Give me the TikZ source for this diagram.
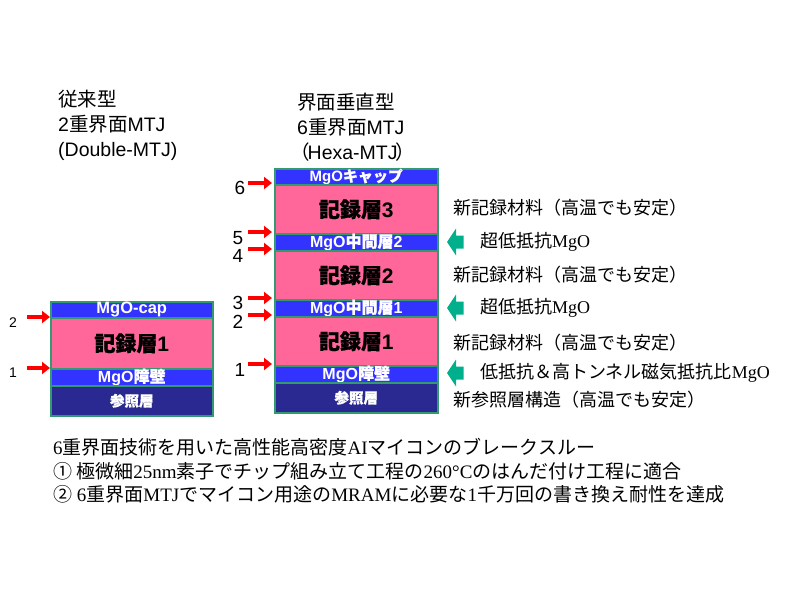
\documentclass[tikz,border=0pt]{standalone}
\usepackage{fontspec}
\setmainfont{Liberation Serif}
\setsansfont{Liberation Sans}
\newfontfamily\jpfont{Noto Sans CJK JP}
\newfontfamily\jpbfont{Noto Sans CJK JP}[FakeBold=0.7]
\newcommand{\jp}[1]{{\jpfont #1}}
\newcommand{\jpb}[1]{{\jpbfont #1}}
\usetikzlibrary{arrows.meta}
\definecolor{mgoblue}{RGB}{51,51,255}
\definecolor{recpink}{RGB}{255,102,153}
\definecolor{refnavy}{RGB}{41,41,145}
\definecolor{edgegreen}{RGB}{51,153,110}
\definecolor{arrgreen}{RGB}{0,176,140}

\begin{document}
\begin{tikzpicture}[x=1pt, y=-1pt,
		layer/.style={draw=edgegreen, line width=1.5pt, anchor=north west, inner sep=0pt},
		redarr/.style={draw=red, line width=4.5pt, -{Triangle[length=8pt, width=12pt]}},
		title/.style={font=\sffamily\fontsize{19.5}{25}\selectfont, align=left, inner sep=0pt, anchor=west},
		rtext/.style={font=\fontsize{18}{20}\selectfont, inner sep=0pt, anchor=west},
		num/.style={font=\sffamily\fontsize{19}{19}\selectfont, inner sep=0pt}]
		\useasboundingbox (0,0) rectangle (800,600);

		% titles
		\node[title] (tL) at (58,125) {\jp{従来型}\\2\jp{重界面}MTJ\\(Double-MTJ)};
		\node[title] (tR) at (297,127) {\jp{界面垂直型}\\6\jp{重界面}MTJ\\\hspace*{-7pt}\jp{（}\kern-2pt Hexa-MTJ\kern-2pt\jp{）}};

		% left stack (Double-MTJ)
		\foreach \nm/\top/\h/\col/\tcol/\fs/\txt in {
			capL/301/16/mgoblue/white/16.5/{MgO-cap},
			recL/317/51/recpink/black/21/{\jpb{記録層}1},
			barL/368/17/mgoblue/white/16/{MgO\jpb{障壁}},
			refL/385/30/refnavy/white/14.5/{\jpb{参照層}}} {
			\node[layer, fill=\col, minimum width=162pt, minimum height=\h pt,
				label={[text=\tcol, font=\sffamily\bfseries\fontsize{\fs}{\fs}\selectfont]center:\txt}] (\nm) at (50,\top) {};
		}

		% right stack (Hexa-MTJ)
		\foreach \nm/\top/\h/\col/\tcol/\fs/\txt in {
			capR/168/16/mgoblue/white/15/{MgO\jpb{キャップ}},
			rec3/184/49/recpink/black/21/{\jpb{記録層}3},
			mid2/233/17/mgoblue/white/16/{MgO\jpb{中間層}2},
			rec2/250/49/recpink/black/21/{\jpb{記録層}2},
			mid1/299/17/mgoblue/white/16/{MgO\jpb{中間層}1},
			rec1/316/49/recpink/black/21/{\jpb{記録層}1},
			barR/365/17/mgoblue/white/16/{MgO\jpb{障壁}},
			refR/382/30/refnavy/white/14.5/{\jpb{参照層}}} {
			\node[layer, fill=\col, minimum width=163pt, minimum height=\h pt,
				label={[text=\tcol, font=\sffamily\bfseries\fontsize{\fs}{\fs}\selectfont]center:\txt}] (\nm) at (274,\top) {};
		}

		% interface numbers and red arrows
		\node[num, font=\sffamily\fontsize{14}{14}\selectfont] (n2L) at (13,323) {2};
		\node[num, font=\sffamily\fontsize{14}{14}\selectfont] (n1L) at (13,373) {1};
		\draw[redarr] ([xshift=-23pt]recL.north west) -- (recL.north west);
		\draw[redarr] ([xshift=-23pt]barL.north west) -- (barL.north west);

		\node[num] (n6) at (240,188) {6};
		\node[num] (n5) at (238,238) {5};
		\node[num] (n4) at (238,256) {4};
		\node[num] (n3) at (238,303) {3};
		\node[num] (n2) at (238,322) {2};
		\node[num] (n1) at (240,370) {1};
		\foreach \tg in {rec3, mid2, rec2, mid1, rec1, barR} {
			\draw[redarr] ([xshift=-26pt, yshift=1pt]\tg.north west) -- ([xshift=-2pt, yshift=1pt]\tg.north west);
		}

		% notes on the right
		\node[rtext] (d3) at (453,208) {\jp{新記録材料（高温でも安定）}};
		\node[rtext] (d2) at (453,275) {\jp{新記録材料（高温でも安定）}};
		\node[rtext] (d1) at (453,343) {\jp{新記録材料（高温でも安定）}};
		\node[rtext] (d0) at (453,400) {\jp{新参照層構造（高温でも安定）}};
		\foreach \gy [count=\k] in {242, 308, 373} {
			\coordinate (gt\k) at (447,\gy);
			\fill[arrgreen] (gt\k) -- ++(9,-13.5) -- ++(0,7) -- ++(7.5,0) -- ++(0,13) -- ++(-7.5,0) -- ++(0,7) -- cycle;
		}
		\node[rtext] (m2) at (480,242) {\jp{超低抵抗}MgO};
		\node[rtext] (m1) at (480,308) {\jp{超低抵抗}MgO};
		\node[rtext] (m0) at (480,373) {\jp{低抵抗＆高トンネル磁気抵抗比}MgO};

		% summary
		\node[anchor=west, align=left, inner sep=0pt, font=\fontsize{19}{23.5}\selectfont] (sum) at (53,471)
			{6\jp{重界面技術を用いた高性能高密度}AI\jp{マイコンのブレークスルー}\\
			\jp{①\ 極微細}25nm\jp{素子でチップ組み立て工程の}260°C\jp{のはんだ付け工程に適合}\\
			\jp{②}\ 6\jp{重界面}MTJ\jp{でマイコン用途の}MRAM\jp{に必要な}1\jp{千万回の書き換え耐性を達成}};
	\end{tikzpicture}
\end{document}
